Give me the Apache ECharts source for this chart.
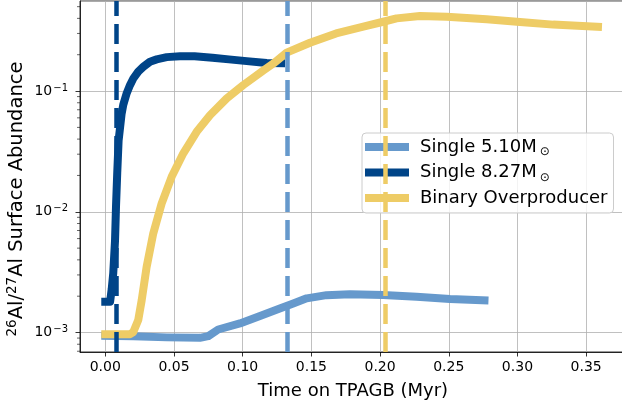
<!DOCTYPE html>
<html><head><meta charset="utf-8">
<script src="https://cdn.jsdelivr.net/npm/echarts@6/dist/echarts.min.js"></script>
<style>html,body{margin:0;padding:0;overflow:hidden;background:#fff}#c{width:626px;height:410px}</style>
</head><body><div id="c"></div>
<script>
// ---- data ----
const seriesNames = ['Single 5.10M', 'Single 8.27M', 'Binary Overproducer'];
const seriesColors = ['#6699CC', '#004488', '#EECC66'];

const lightX = [0, 0.0204, 0.0447, 0.0689, 0.075, 0.0822, 0.098, 0.1126, 0.127, 0.1368, 0.1466, 0.161, 0.178, 0.2023, 0.2266, 0.2509, 0.276];
const lightY = [9.4e-4, 9.33e-4, 9.12e-4, 9.04e-4, 9.33e-4, 1.06e-3, 1.19e-3, 1.37e-3, 1.58e-3, 1.74e-3, 1.92e-3, 2.04e-3, 2.08e-3, 2.05e-3, 1.98e-3, 1.90e-3, 1.85e-3];

const darkX = [0, 0.0035, 0.0047, 0.0058, 0.0071, 0.0078, 0.0087, 0.0097, 0.0119, 0.0131, 0.0156, 0.018, 0.0204, 0.024, 0.0277, 0.0325, 0.0374, 0.0447, 0.0544, 0.065, 0.078, 0.09, 0.103, 0.1175, 0.128];
const darkY = [1.8e-3, 1.8e-3, 2.3e-3, 3.1e-3, 5.8e-3, 1.1e-2, 2.1e-2, 3.9e-2, 6.5e-2, 7.7e-2, 9.6e-2, 0.112, 0.127, 0.145, 0.159, 0.175, 0.183, 0.191, 0.194, 0.194, 0.189, 0.183, 0.177, 0.171, 0.170];

const yellowX = [0, 0.018, 0.0204, 0.024, 0.0265, 0.0301, 0.0349, 0.041, 0.0483, 0.0568, 0.0665, 0.0762, 0.0884, 0.1004, 0.115, 0.1223, 0.132, 0.149, 0.168, 0.1878, 0.2023, 0.212, 0.229, 0.2485, 0.2776, 0.3018, 0.326, 0.3586];
const yellowY = [9.7e-4, 9.7e-4, 1.01e-3, 1.27e-3, 1.85e-3, 3.5e-3, 6.6e-3, 1.17e-2, 1.95e-2, 3.05e-2, 4.6e-2, 6.3e-2, 8.7e-2, 0.112, 0.148, 0.169, 0.208, 0.251, 0.30, 0.341, 0.375, 0.40, 0.418, 0.413, 0.393, 0.373, 0.355, 0.341];

const vlineX = [0.1325, 0.0083, 0.204]; // light, dark, yellow

const xMin = -0.0184, xMax = 0.379;
const yMin = 6.9e-4, yMax = 0.557;
const yMinorTicks = [7e-4, 8e-4, 9e-4,
  2e-3, 3e-3, 4e-3, 5e-3, 6e-3, 7e-3, 8e-3, 9e-3,
  2e-2, 3e-2, 4e-2, 5e-2, 6e-2, 7e-2, 8e-2, 9e-2,
  2e-1, 3e-1, 4e-1, 5e-1];

const FONT = 'DejaVu Sans';
const zip = (xs, ys) => xs.map((x, i) => [x, ys[i]]);
const curves = [zip(lightX, lightY), zip(darkX, darkY), zip(yellowX, yellowY)];

const chart = echarts.init(document.getElementById('c'), null, {renderer: 'canvas'});

const series = curves.map((d, i) => ({
  name: seriesNames[i], type: 'line', data: d, showSymbol: false, symbol: 'none',
  lineStyle: {color: seriesColors[i], width: 8, cap: 'square', join: 'round'},
  itemStyle: {color: seriesColors[i]},
  z: 2 + i, animation: false
}));

series.push({
  type: 'line', data: [], z: 10, silent: true,
  markLine: {
    silent: true, symbol: ['none', 'none'], animation: false, precision: 6,
    label: {show: false},
    data: vlineX.map((x, i) => ({xAxis: x, lineStyle: {color: seriesColors[i], width: 4.5, type: [20, 8]}}))
  }
});

series.push({
  type: 'custom', coordinateSystem: 'cartesian2d', silent: true, clip: false, z: 20,
  data: yMinorTicks.map(v => [xMin, v]),
  renderItem: (params, api) => {
    const p = api.coord([api.value(0), api.value(1)]);
    return {type: 'line', shape: {x1: p[0] - 3, y1: p[1], x2: p[0], y2: p[1]}, style: {stroke: '#000', lineWidth: 0.6}};
  }
});

const sunRich = {
  n: {fontFamily: FONT, fontSize: 18, lineHeight: 22, color: '#000'},
  s: {fontFamily: FONT, fontSize: 12, lineHeight: 13, color: '#000', verticalAlign: 'bottom', padding: [0, 0, 0, 3]}
};

chart.setOption({
  animation: false,
  backgroundColor: '#fff',
  grid: {left: 80, top: 1, right: 0, bottom: 58, show: true, borderColor: '#000', borderWidth: 0.8, backgroundColor: 'transparent'},
  xAxis: {
    type: 'value', min: xMin, max: xMax, splitNumber: 8,
    axisLine: {show: true, onZero: false, lineStyle: {color: '#000', width: 0.8}},
    axisTick: {show: true, inside: false, length: 4.5, lineStyle: {color: '#000', width: 0.8}},
    axisLabel: {show: true, margin: 8, showMinLabel: false, showMaxLabel: false, fontFamily: FONT, fontSize: 14, color: '#000', formatter: v => v.toFixed(2)},
    splitLine: {show: true, lineStyle: {color: '#b0b0b0', width: 0.8}},
    name: 'Time on TPAGB (Myr)', nameLocation: 'middle', nameGap: 30,
    nameTextStyle: {fontFamily: FONT, fontSize: 18, color: '#000'}
  },
  yAxis: {
    type: 'log', logBase: 10, min: yMin, max: yMax,
    axisLine: {show: true, onZero: false, lineStyle: {color: '#000', width: 0.8}},
    axisTick: {show: true, inside: false, length: 4.5, lineStyle: {color: '#000', width: 0.8}},
    axisLabel: {
      show: true, margin: 12, showMinLabel: false, showMaxLabel: false,
      formatter: v => { const e = Math.round(Math.log10(v)); return '{b|10}{s|\u2212' + (-e) + '}'; },
      rich: {
        b: {fontFamily: FONT, fontSize: 14, lineHeight: 16, color: '#000'},
        s: {fontFamily: FONT, fontSize: 10, lineHeight: 10, color: '#000', verticalAlign: 'top', padding: [0, 0, 0, 1]}
      }
    },
    splitLine: {show: true, lineStyle: {color: '#b0b0b0', width: 0.8}},
    minorTick: {show: false}
  },
  legend: {
    orient: 'vertical', left: 362, top: 133,
    padding: [5, 6, 6, 3],
    itemWidth: 44, itemHeight: 8, itemGap: 5.5, icon: 'rect',
    backgroundColor: 'rgba(255,255,255,0.8)', borderColor: '#cccccc', borderWidth: 1, borderRadius: 4,
    data: seriesNames,
    formatter: name => name.startsWith('Single') ? '{n|' + name + '}{s|\u2299}' : '{n|' + name + '}',
    textStyle: {fontFamily: FONT, fontSize: 18, color: '#000', padding: [0, 0, 0, 6], rich: sunRich}
  },
  graphic: [{
    type: 'text', x: 17, y: 199, rotation: Math.PI / 2, z: 100,
    style: {
      text: '{s|26}{b|Al/}{s|27}{b|Al Surface Abundance}',
      align: 'center', verticalAlign: 'middle', fill: '#000',
      rich: {
        b: {fontFamily: FONT, fontSize: 19.5, lineHeight: 24, fill: '#000'},
        s: {fontFamily: FONT, fontSize: 13.5, lineHeight: 14, fill: '#000', verticalAlign: 'top'}
      }
    }
  }],
  series: series
});
</script>
</body></html>
